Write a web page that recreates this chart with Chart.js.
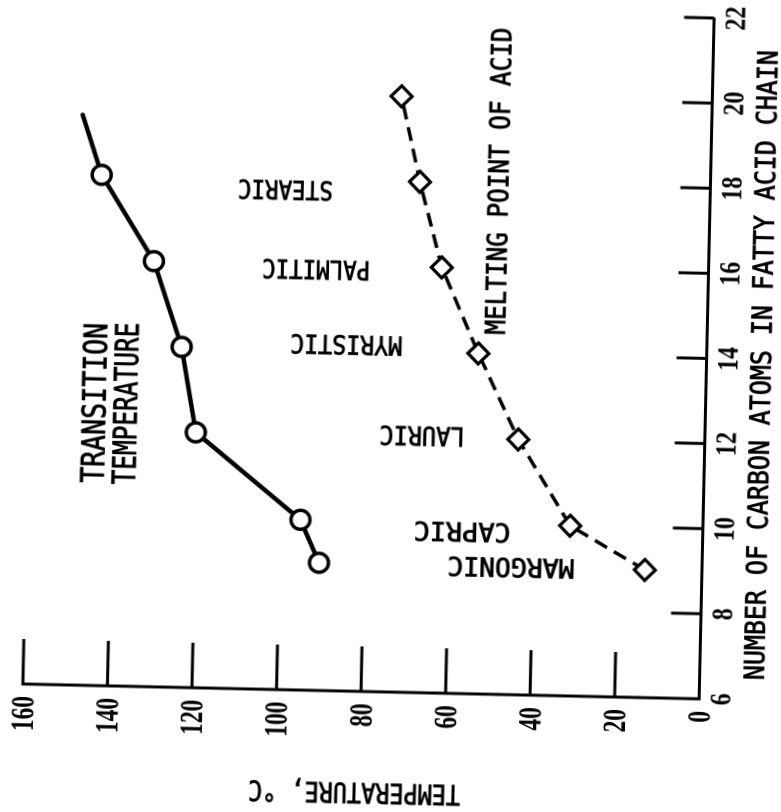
<!DOCTYPE html>
<html>
<head>
<title>Transition temperature and melting point of fatty acids</title>
<script src="https://cdn.jsdelivr.net/npm/chart.js@4.4.0/dist/chart.umd.min.js"></script>
<style>
  html, body { margin: 0; padding: 0; background: #fff; overflow: hidden; width: 781px; height: 812px; }
  /* the figure is printed on its side and the scan is a little skewed */
  #turn { position: absolute; left: 0; top: 0; width: 852px; height: 821px;
          transform-origin: 0 0;
          transform: translate(390px, 406px) rotate(1.26deg) translate(-410px, 426px) rotate(-90deg); }
</style>
</head>
<body>
<div id="turn">
    <canvas id="chartCanvas" width="852" height="821"></canvas>
</div>
<script>

// number of carbon atoms in the fatty acid chain
const carbonAtoms = [9, 10, 12, 14, 16, 18, 20];
const meltingPoint = [13.5, 31.4, 44.1, 54, 63.1, 68.7, 73.5];

const transitionCarbons = [9, 10, 12, 14, 16, 18, 19.4];
const transitionTemp = [90.6, 95.2, 120.4, 124.2, 131.2, 144, 148.8];

const carbonTicks = [6, 8, 10, 12, 14, 16, 18, 20, 22];
const tempTicks = [0, 20, 40, 60, 80, 100, 120, 140, 160];

// acid names written next to the curves (carbon, temperature of the label centre)
const acidNames = ['MARGONIC', 'CAPRIC', 'LAURIC', 'MYRISTIC', 'PALMITIC', 'STEARIC'];
const acidCarbon = [8.98, 9.8, 12.03, 14.13, 15.88, 17.74];
const acidTemp = [45.2, 56.9, 66.9, 85.3, 92.8, 100.5];

const INK = '#000';
const acidWidths = [127, 97, 85, 112, 108, 95];

function drawWord(ctx, text, x, y, o) {
    ctx.save();
    ctx.translate(x, y);
    if (o.rotate) ctx.rotate(o.rotate);
    ctx.font = o.font;
    ctx.textAlign = o.align || 'center';
    ctx.textBaseline = 'alphabetic';
    const w = ctx.measureText(text).width;
    const sx = o.width ? o.width / w : (o.squeeze || 1);
    ctx.scale(sx, 1);
    ctx.fillStyle = INK;
    ctx.fillText(text, 0, o.dy || 0);
    if (o.stroke) {
        ctx.strokeStyle = INK;
        ctx.lineWidth = o.stroke;
        ctx.strokeText(text, 0, o.dy || 0);
    }
    ctx.restore();
}

const handDrawn = {
    id: 'handDrawn',
    afterDraw(chart) {
        const { ctx, chartArea: a } = chart;
        const x = chart.scales.x, y = chart.scales.y;

        // tick marks point into the plot
        ctx.save();
        ctx.strokeStyle = INK;
        ctx.lineWidth = 3;
        ctx.beginPath();
        carbonTicks.forEach(v => {
            const px = x.getPixelForValue(v);
            ctx.moveTo(px, a.bottom);
            ctx.lineTo(px, a.bottom - 30);
        });
        tempTicks.forEach(v => {
            const py = y.getPixelForValue(v);
            ctx.moveTo(a.left, py);
            ctx.lineTo(a.left + 45, py);
        });
        ctx.stroke();
        ctx.restore();

        carbonTicks.forEach(v => drawWord(ctx, String(v), x.getPixelForValue(v), a.bottom + 31,
            { font: 'bold 30px "Liberation Serif"', squeeze: 0.8 }));
        tempTicks.forEach(v => drawWord(ctx, String(v), a.left - 12, y.getPixelForValue(v) + 11,
            { font: 'bold 33px "Liberation Serif"', squeeze: 0.71, align: 'right' }));

        const mono = '"DejaVu Sans Mono", "Liberation Mono", monospace';

        drawWord(ctx, 'NUMBER OF CARBON ATOMS IN FATTY ACID CHAIN', x.getPixelForValue(13.87), a.bottom + 64,
            { font: '28px ' + mono, width: 630, stroke: 0.8 });
        drawWord(ctx, 'TEMPERATURE, °C', a.left - 92, y.getPixelForValue(81.1),
            { font: '28px ' + mono, width: 212, stroke: 0.8, rotate: -Math.PI / 2 });

        acidNames.forEach((name, i) => drawWord(ctx, name,
            x.getPixelForValue(acidCarbon[i]), y.getPixelForValue(acidTemp[i]),
            { font: '26px ' + mono, width: acidWidths[i], stroke: 0.8, rotate: -Math.PI / 2, dy: 9.5 }));

        drawWord(ctx, 'TRANSITION', x.getPixelForValue(12.64), y.getPixelForValue(144.7),
            { font: '32px ' + mono, width: 160, stroke: 0.8, dy: 11.7 });
        drawWord(ctx, 'TEMPERATURE', x.getPixelForValue(12.64), y.getPixelForValue(137.2),
            { font: '32px ' + mono, width: 162, stroke: 0.8, dy: 11.7 });
        drawWord(ctx, 'MELTING POINT OF ACID', x.getPixelForValue(18.06), y.getPixelForValue(50.3),
            { font: '28px ' + mono, width: 307, stroke: 0.8, dy: 10 });
    }
};

const chartCtx = document.getElementById('chartCanvas').getContext('2d');

const myChart = new Chart(chartCtx, {
    type: 'scatter',
    data: {
        datasets: [{
            label: 'Transition temperature',
            data: transitionCarbons.map((c, i) => ({ x: c, y: transitionTemp[i] })),
            showLine: true,
            borderColor: INK,
            borderWidth: 4.5,
            borderCapStyle: 'round',
            pointStyle: 'circle',
            pointRadius: transitionCarbons.map((c, i) => i === transitionCarbons.length - 1 ? 0 : 9.5),
            pointBorderWidth: 3.5,
            pointBorderColor: INK,
            pointBackgroundColor: '#fff',
            clip: false,
        }, {
            label: 'Melting point of acid',
            data: carbonAtoms.map((c, i) => ({ x: c, y: meltingPoint[i] })),
            showLine: true,
            borderColor: INK,
            borderWidth: 3.5,
            borderDash: [14, 8],
            pointStyle: 'rectRot',
            pointRadius: 10.5,
            pointBorderWidth: 3.2,
            pointBorderColor: INK,
            pointBackgroundColor: '#fff',
            clip: false,
        }],
    },
    options: {
        responsive: false,
        animation: false,
        devicePixelRatio: 2,
        events: [],
        layout: { padding: { top: 49, right: 31, left: 0, bottom: 0 } },
        plugins: { legend: { display: false }, tooltip: { enabled: false } },
        scales: {
            x: {
                type: 'linear', min: 6, max: 22,
                ticks: { display: false, stepSize: 2 },
                grid: { drawOnChartArea: false, drawTicks: false },
                border: { display: true, color: INK, width: 3 },
                afterFit: s => { s.height = 95.5; },
            },
            y: {
                type: 'linear', min: 0, max: 160,
                ticks: { display: false, stepSize: 20 },
                grid: { drawOnChartArea: false, drawTicks: false },
                border: { display: true, color: INK, width: 3 },
                afterFit: s => { s.width = 140; },
            },
        },
    },
    plugins: [handDrawn],
});

</script>
</body>
</html>
